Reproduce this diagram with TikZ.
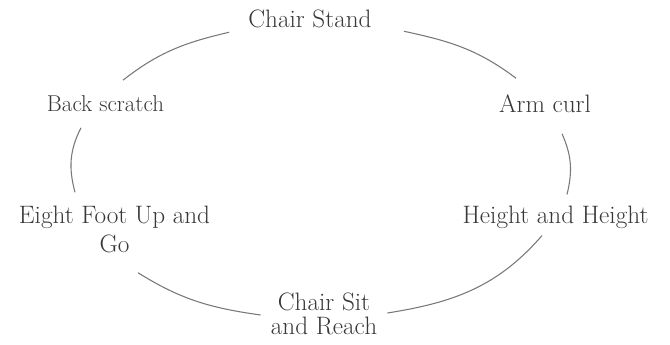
\documentclass[tikz,border=0pt]{standalone}
\usepackage{tikz}
\usetikzlibrary{calc}
\definecolor{txt}{RGB}{56,56,56}
\definecolor{ring}{RGB}{120,120,120}
\tikzset{
  stage/.style={align=center,inner sep=0pt,text=txt,font=\fontsize{18.9}{21.75}\selectfont},
  link/.style={draw=ring,line width=0.8pt}
}
\begin{document}
\begin{tikzpicture}[x=0.75pt,y=0.75pt]
\useasboundingbox (0,0) rectangle (670,345);
\node[stage] (stand) at (310,326) {Chair Stand};
\node[stage] (arm) at (545,241.5) {Arm curl};
\node[stage] (hgt) at (555.5,128) {Height and Height};
\node[stage,font=\fontsize{18.9}{18}\selectfont] (sit) at (324,31) {Chair Sit\\and Reach};
\node[stage] (eight) at (114.5,116) {Eight Foot Up and\\Go};
\node[stage,font=\fontsize{17.2}{20}\selectfont] (back) at (105.5,241.5) {Back scratch};
\draw[link] ([shift={(17.5,15)}]back.north) to[out=38,in=193] ([shift={(-19,-4)}]stand.south west);
\draw[link] ([shift={(32,-3)}]stand.south east) to[out=-12,in=143] ([shift={(-29,16)}]arm.north);
\draw[link] ([shift={(17,-21)}]arm.south) to[out=-66,in=76] ([shift={(11.5,11)}]hgt.north);
\draw[link] ([shift={(-13.5,-7)}]hgt.south) to[out=229,in=9] ([shift={(10,1)}]sit.east);
\draw[link] ([shift={(-10,-1)}]sit.west) to[out=172,in=-32] ([shift={(23.5,-20)}]eight.south);
\draw[link] ([shift={(-39.5,13)}]eight.north) to[out=105,in=243] ([shift={(-24.5,-16)}]back.south);
\end{tikzpicture}
\end{document}
